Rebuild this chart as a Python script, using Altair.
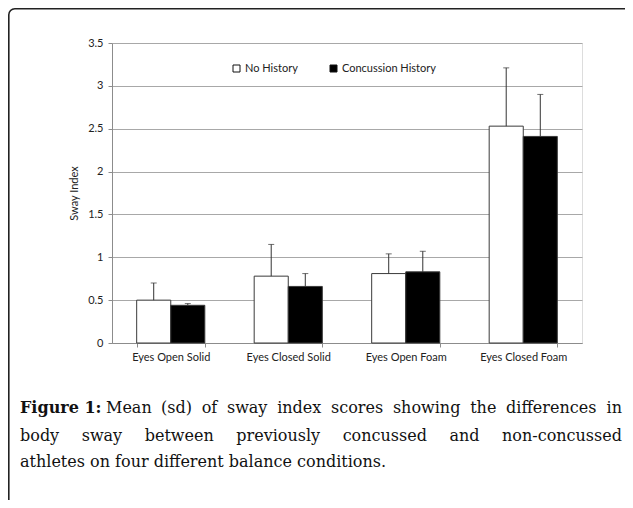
import altair as alt
import pandas as pd

# ---- data ----
conditions = ["Eyes Open Solid", "Eyes Closed Solid", "Eyes Open Foam", "Eyes Closed Foam"]
groups = ["No History", "Concussion History"]
no_history_mean = [0.50, 0.78, 0.81, 2.53]
no_history_sd = [0.20, 0.37, 0.23, 0.68]
concussion_mean = [0.44, 0.66, 0.83, 2.41]
concussion_sd = [0.02, 0.15, 0.24, 0.49]
y_ticks = [0, 0.5, 1, 1.5, 2, 2.5, 3, 3.5]

caption_bold = "Figure 1:"
caption_line1 = "Mean (sd) of sway index scores showing the differences in"
caption_line2 = "body sway between previously concussed and non-concussed"
caption_line3 = "athletes on four different balance conditions."

rows = []
for i, c in enumerate(conditions):
    rows.append(dict(cond=c, group=groups[0], mean=no_history_mean[i],
                     top=no_history_mean[i] + no_history_sd[i]))
    rows.append(dict(cond=c, group=groups[1], mean=concussion_mean[i],
                     top=concussion_mean[i] + concussion_sd[i]))
df = pd.DataFrame(rows)

W, H = 470, 300
PAD_L, PAD_T, PAD_R, PAD_B = 104, 35, 43, 157
AXIS_FONT = "Lato"
GRID = "#a8a8a8"
AXC = "#8c8c8c"

x_enc = alt.X("cond:N", sort=conditions, title=None,
              scale=alt.Scale(paddingInner=0.42, paddingOuter=0.21),
              axis=alt.Axis(labelAngle=0, tickBand="extent", domainColor=AXC,
                            tickColor=AXC, tickSize=4, labelFont=AXIS_FONT,
                            labelFontSize=11, labelColor="#222", labelPadding=4,
                            grid=False))
xo_enc = alt.XOffset("group:N", sort=groups,
                     scale=alt.Scale(paddingInner=0, paddingOuter=0))


def y_enc(field):
    return alt.Y(field, type="quantitative",
                 scale=alt.Scale(domain=[0, 3.5], nice=False),
                 title="Sway Index",
                 axis=alt.Axis(values=y_ticks, format="~g", gridColor=GRID,
                               domainColor=AXC, tickColor=AXC, tickSize=4,
                               labelFont=AXIS_FONT, labelFontSize=11,
                               labelColor="#222", labelPadding=5,
                               titleFont=AXIS_FONT, titleFontSize=11,
                               titleFontWeight="normal", titleColor="#222",
                               titlePadding=8))


bars = alt.Chart(df).mark_bar(stroke="#3a3a3a", strokeWidth=1).encode(
    x=x_enc, xOffset=xo_enc, y=y_enc("mean"),
    fill=alt.Fill("group:N", sort=groups,
                  scale=alt.Scale(domain=groups, range=["white", "black"]),
                  legend=alt.Legend(orient="none", legendX=119, legendY=20,
                                    direction="horizontal", title=None,
                                    symbolType="square", symbolSize=49,
                                    symbolStrokeColor="#111",
                                    symbolStrokeWidth=1,
                                    labelFont=AXIS_FONT, labelFontSize=11,
                                    labelColor="#222", columnPadding=30,
                                    labelOffset=3)),
)
err = alt.Chart(df).mark_rule(color="#333", strokeWidth=1).encode(
    x=x_enc, xOffset=xo_enc, y=y_enc("mean"), y2="top:Q")
caps = alt.Chart(df).mark_tick(color="#333", thickness=1, size=6).encode(
    x=x_enc, xOffset=xo_enc, y=y_enc("top"))

plot = alt.layer(bars, err, caps)

# ---- caption (justified by word placement) ----
FS = 16
dv = {'a': 0.596, 'b': 0.640, 'c': 0.560, 'd': 0.640, 'e': 0.592, 'f': 0.370,
      'g': 0.640, 'h': 0.644, 'i': 0.320, 'j': 0.310, 'k': 0.608, 'l': 0.320,
      'm': 0.948, 'n': 0.644, 'o': 0.602, 'p': 0.640, 'q': 0.640, 'r': 0.478,
      's': 0.513, 't': 0.402, 'u': 0.644, 'v': 0.565, 'w': 0.856, 'x': 0.564,
      'y': 0.565, 'z': 0.527, ' ': 0.318, '(': 0.390, ')': 0.390, '-': 0.338,
      '.': 0.318, ':': 0.337, 'M': 0.995, 'F': 0.673}


def wwidth(w):
    return sum(dv.get(ch, 0.6) for ch in w) * FS


def justify(line, left, right, ybase):
    words = line.split(" ")
    total = sum(wwidth(w) for w in words)
    gap = (right - left - total) / (len(words) - 1)
    out = []
    xpos = left
    for i, w in enumerate(words):
        if i == len(words) - 1:
            out.append(dict(word=w, px=right, py=ybase, al="right"))
        else:
            out.append(dict(word=w, px=xpos, py=ybase, al="left"))
        xpos += wwidth(w) + gap
    return out


LEFT = 20 - 8 - PAD_L
RIGHT = 622 - 8 - PAD_L
B1, B2, B3 = 413 - 8 - PAD_T, 441 - 8 - PAD_T, 467 - 8 - PAD_T

cap_rows = []
cap_rows += justify(caption_line1, 106 - 8 - PAD_L, RIGHT, B1)
cap_rows += justify(caption_line2, LEFT, RIGHT, B2)
cap_rows.append(dict(word=caption_line3, px=LEFT, py=B3, al="left"))
cap_df = pd.DataFrame(cap_rows)

cap_left = alt.Chart(cap_df[cap_df.al == "left"]).mark_text(
    font="DejaVu Serif", fontSize=FS, align="left", baseline="alphabetic",
    color="#111").encode(
    x=alt.X("px:Q", scale=None, axis=None),
    y=alt.Y("py:Q", scale=None, axis=None), text="word:N")
cap_right = alt.Chart(cap_df[cap_df.al == "right"]).mark_text(
    font="DejaVu Serif", fontSize=FS, align="right", baseline="alphabetic",
    color="#111").encode(
    x=alt.X("px:Q", scale=None, axis=None),
    y=alt.Y("py:Q", scale=None, axis=None), text="word:N")
cap_bold = alt.Chart(pd.DataFrame([dict(word=caption_bold, px=LEFT, py=B1)])).mark_text(
    font="DejaVu Serif", fontSize=FS, fontWeight="bold", align="left",
    baseline="alphabetic", color="#111").encode(
    x=alt.X("px:Q", scale=None, axis=None),
    y=alt.Y("py:Q", scale=None, axis=None), text="word:N")

frame = alt.Chart(alt.Data(values=[{}])).mark_rect(
    fillOpacity=0, stroke="#222", strokeWidth=1.6, cornerRadius=6).encode(
    x=alt.value(-PAD_L + 0.8), x2=alt.value(W + PAD_R + 30),
    y=alt.value(-PAD_T + 0.8), y2=alt.value(H + PAD_B + 30))

chart = alt.layer(frame, plot, cap_left, cap_right, cap_bold).resolve_scale(
    x="independent", y="independent").properties(
    width=W, height=H, autosize="none",
    padding={"left": PAD_L, "top": PAD_T, "right": PAD_R, "bottom": PAD_B}
).configure_view(stroke=None).configure(background="white")

chart.save("out.html", embed_options={"renderer": "svg", "actions": False})
